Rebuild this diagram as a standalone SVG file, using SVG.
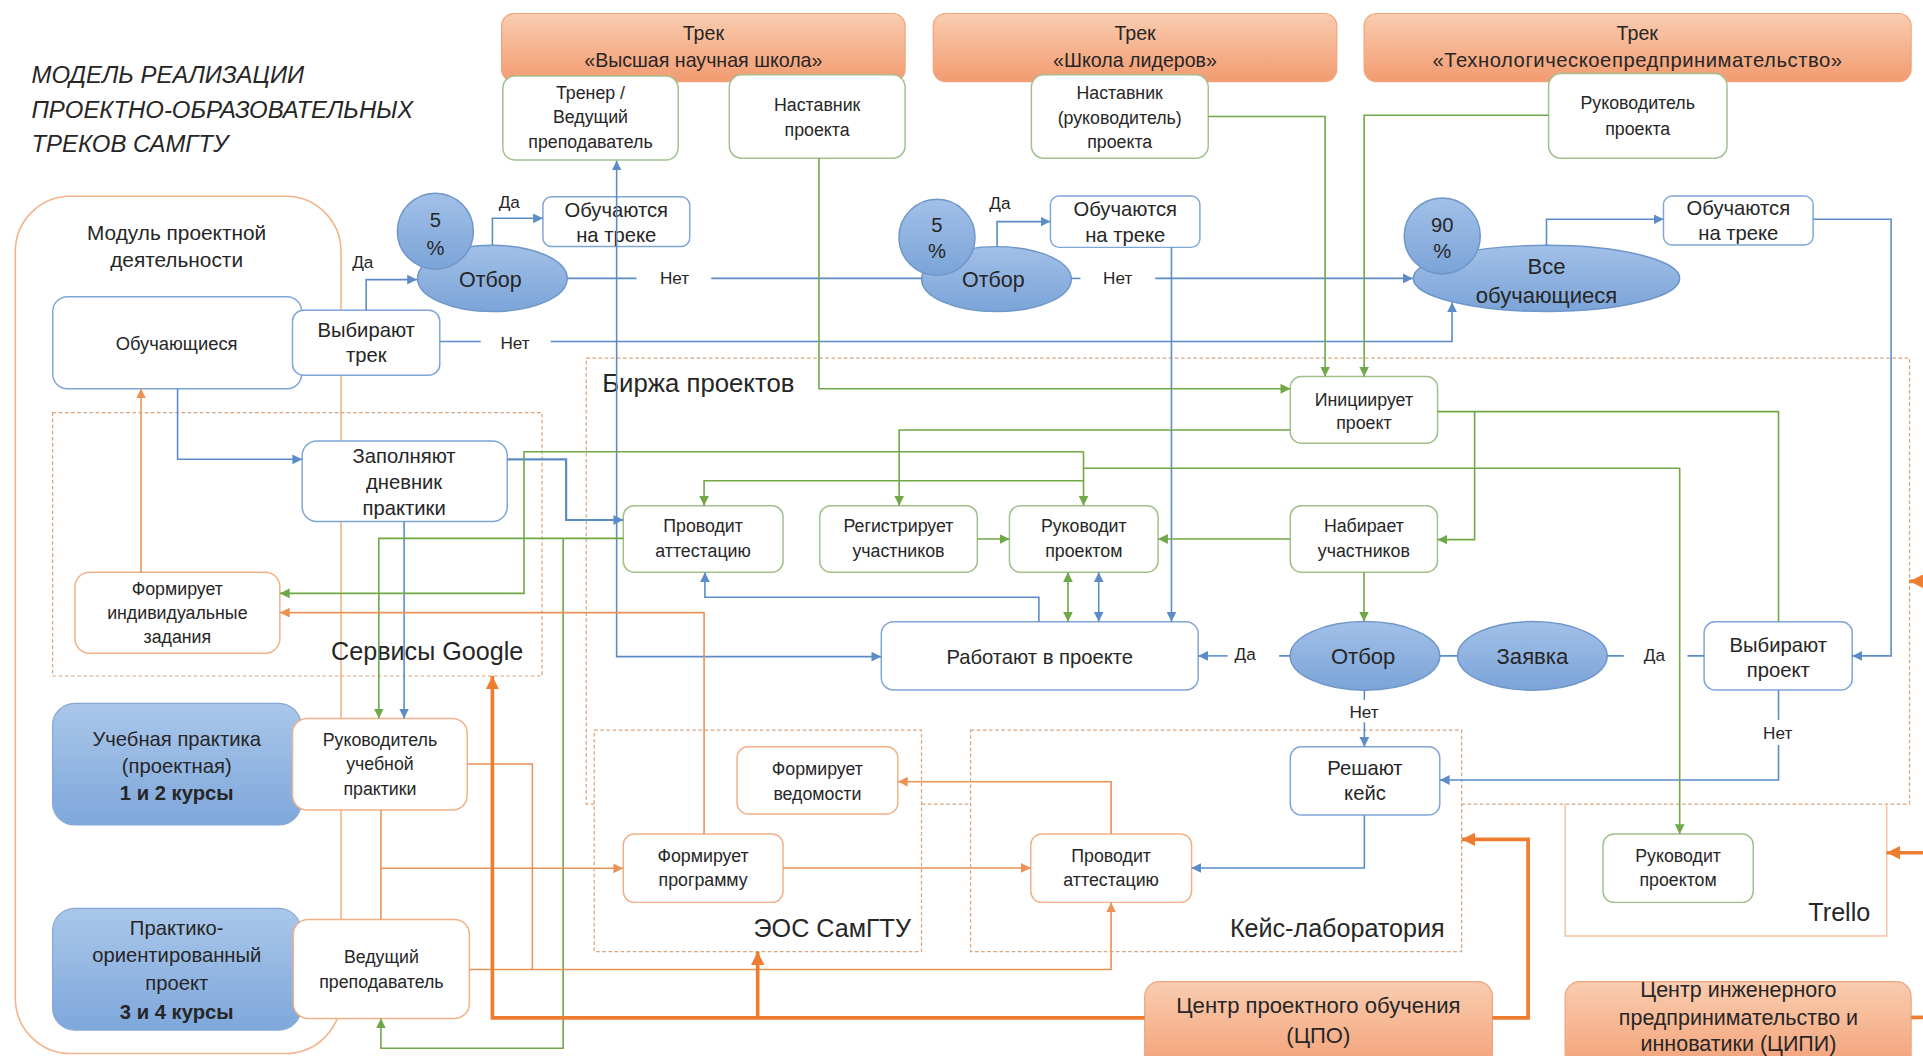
<svg xmlns="http://www.w3.org/2000/svg" width="1923" height="1056" viewBox="0 0 1923 1056">
<defs>
<style>
.t{font-family:"Liberation Sans",Arial,sans-serif;fill:#262626;text-anchor:middle}
.s{text-anchor:start}
.e{text-anchor:end}
.f14{font-size:14.5px}.f16{font-size:16.5px}.f17{font-size:17.5px}.f18{font-size:18px}.f20{font-size:20.5px}
.b{font-weight:bold}
.bxb{fill:#fff;stroke:#7ea6d6;stroke-width:1.2}
.bxg{fill:#fff;stroke:#a3c08a;stroke-width:1.2}
.bxo{fill:#fff;stroke:#f2b088;stroke-width:1.2}
.trk{fill:url(#gOr);stroke:#f0a47c;stroke-width:1}
.blu{fill:url(#gBl);stroke:#86a8d2;stroke-width:1}
.ell{fill:url(#gEl);stroke:#6f96c8;stroke-width:1.2}
.cb{fill:none;stroke:#5b8cc8;stroke-width:1.3}
.cg{fill:none;stroke:#70a848;stroke-width:1.3}
.co{fill:none;stroke:#eb9356;stroke-width:1.3}
.cot{fill:none;stroke:#ed7d31;stroke-width:3}
.dash{fill:none;stroke:#d9a47c;stroke-width:1;stroke-dasharray:3 2}
.mod{fill:none;stroke:#f2b48a;stroke-width:1.3}
</style>
<linearGradient id="gOr" x1="0" y1="0" x2="0" y2="1"><stop offset="0" stop-color="#f9cdb0"/><stop offset="1" stop-color="#f29b70"/></linearGradient>
<linearGradient id="gBl" x1="0" y1="0" x2="0" y2="1"><stop offset="0" stop-color="#aac7ea"/><stop offset="1" stop-color="#7ea7db"/></linearGradient>
<linearGradient id="gEl" x1="0" y1="0" x2="0" y2="1"><stop offset="0" stop-color="#a2c0e8"/><stop offset="1" stop-color="#7ba4d8"/></linearGradient>
<marker id="ab" viewBox="0 0 10 10" refX="10" refY="5" markerWidth="8" markerHeight="8" markerUnits="userSpaceOnUse" orient="auto-start-reverse"><path d="M0,0 L10,5 L0,10 z" fill="#5b8cc8"/></marker>
<marker id="ag" viewBox="0 0 10 10" refX="10" refY="5" markerWidth="8" markerHeight="8" markerUnits="userSpaceOnUse" orient="auto-start-reverse"><path d="M0,0 L10,5 L0,10 z" fill="#70a848"/></marker>
<marker id="ao" viewBox="0 0 10 10" refX="10" refY="5" markerWidth="8" markerHeight="8" markerUnits="userSpaceOnUse" orient="auto-start-reverse"><path d="M0,0 L10,5 L0,10 z" fill="#eb9356"/></marker>
<marker id="aot" viewBox="0 0 10 10" refX="10" refY="5" markerWidth="11" markerHeight="11" markerUnits="userSpaceOnUse" orient="auto-start-reverse"><path d="M0,0 L10,5 L0,10 z" fill="#ed7d31"/></marker>
</defs>
<rect width="1923" height="1056" fill="#fff"/>
<g transform="scale(1.2264)">
<g id="containers">
<rect class="mod" x="12.5" y="160" width="265.5" height="699" rx="45"/>
<rect class="dash" x="478" y="292" width="1079" height="363.6"/>
<rect class="dash" x="42.9" y="336.4" width="399.1" height="214.8"/>
<rect class="dash" x="484.5" y="595.3" width="266.9" height="180.7" style="fill:#fff"/>
<rect class="dash" x="791.4" y="595.3" width="400.4" height="180.7" style="fill:#fff"/>
<path d="M1276.2,655.6 V763.2 H1538.4 V655.6" fill="none" stroke="#f2c2a2" stroke-width="1.2"/>
<text class="t s f20" x="491" y="319.5" style="font-size:21px">Биржа проектов</text>
<text class="t f20" x="348.3" y="531.3" dy=".35em">Сервисы Google</text>
<text class="t f20" x="678.6" y="757" dy=".35em">ЭОС СамГТУ</text>
<text class="t e f20" x="1178" y="757" dy=".35em">Кейс-лаборатория</text>
<text class="t e f20" x="1525" y="743.4" dy=".35em">Trello</text>
</g>
<g id="title">
<text class="t s" x="25.7" y="68" style="font-size:19.5px;font-style:italic">МОДЕЛЬ РЕАЛИЗАЦИИ</text>
<text class="t s" x="25.7" y="96.5" style="font-size:19.5px;font-style:italic">ПРОЕКТНО-ОБРАЗОВАТЕЛЬНЫХ</text>
<text class="t s" x="25.7" y="124" style="font-size:19.5px;font-style:italic">ТРЕКОВ САМГТУ</text>
</g>
<g id="track1"><rect class="trk" x="409" y="11" width="329" height="55.5" rx="10"/><text class="t" x="573.5" y="27" dy=".35em" style="font-size:16px">Трек</text><text class="t" x="573.5" y="49" dy=".35em" style="font-size:16px">«Высшая научная школа»</text></g>
<g id="track2"><rect class="trk" x="761" y="11" width="329" height="55.5" rx="10"/><text class="t" x="925.5" y="27" dy=".35em" style="font-size:16px">Трек</text><text class="t" x="925.5" y="49" dy=".35em" style="font-size:16px">«Школа лидеров»</text></g>
<g id="track3"><rect class="trk" x="1112.3" y="11" width="446" height="55.5" rx="10"/><text class="t" x="1335" y="27" dy=".35em" style="font-size:16px">Трек</text><text class="t" x="1335" y="49" dy=".35em" style="font-size:16.5px" textLength="334" lengthAdjust="spacing">«Технологическоепредпринимательство»</text></g>
<g id="trener"><rect class="bxg" x="410" y="62" width="143" height="68.5" rx="10"/><text class="t f14" x="481.5" y="76" dy=".35em">Тренер /</text><text class="t f14" x="481.5" y="95.5" dy=".35em">Ведущий</text><text class="t f14" x="481.5" y="115.5" dy=".35em">преподаватель</text></g>
<g id="nastavnik1"><rect class="bxg" x="594.7" y="61" width="143.3" height="68" rx="10"/><text class="t f14" x="666.3" y="85.6" dy=".35em">Наставник</text><text class="t f14" x="666.3" y="105.5" dy=".35em">проекта</text></g>
<g id="nastavnik2"><rect class="bxg" x="841" y="61" width="144.2" height="68" rx="10"/><text class="t f14" x="913" y="75.5" dy=".35em">Наставник</text><text class="t f14" x="913" y="95.7" dy=".35em">(руководитель)</text><text class="t f14" x="913" y="115.5" dy=".35em">проекта</text></g>
<g id="rukovoditel3"><rect class="bxg" x="1262.7" y="60" width="145.5" height="69" rx="10"/><text class="t f14" x="1335.4" y="84" dy=".35em">Руководитель</text><text class="t f14" x="1335.4" y="104.6" dy=".35em">проекта</text></g>
<g id="modul"><text class="t" x="144" y="190" dy=".35em" style="font-size:17px">Модуль проектной</text><text class="t" x="144" y="212" dy=".35em" style="font-size:17px">деятельности</text></g>
<g id="obuchayushchiesya"><rect class="bxb" x="43" y="242" width="203" height="75" rx="12"/><text class="t" x="144" y="280" dy=".35em" style="font-size:15px">Обучающиеся</text></g>
<g id="vybirayut-trek"><rect class="bxb" x="238.5" y="253" width="120.1" height="53" rx="9"/><text class="t f16" x="298.6" y="269" dy=".35em">Выбирают</text><text class="t f16" x="298.6" y="289.5" dy=".35em">трек</text></g>
<g id="otbor1"><ellipse class="ell" cx="401.5" cy="227" rx="61" ry="27"/><circle class="ell" cx="355" cy="188.5" r="31"/><text class="t f16" x="355" y="179.5" dy=".35em">5</text><text class="t f16" x="355" y="202.5" dy=".35em">%</text><text class="t f17" x="399.8" y="228" dy=".35em">Отбор</text></g>
<g id="obuchayutsya1"><rect class="bxb" x="442.7" y="160.4" width="119.7" height="40.6" rx="7"/><text class="t f16" x="502.5" y="171" dy=".35em">Обучаются</text><text class="t f16" x="502.5" y="191.6" dy=".35em">на треке</text></g>
<g id="otbor2"><ellipse class="ell" cx="812.5" cy="227.6" rx="61" ry="26.5"/><circle class="ell" cx="764" cy="193.5" r="31"/><text class="t f16" x="764" y="183.5" dy=".35em">5</text><text class="t f16" x="764" y="204.4" dy=".35em">%</text><text class="t f17" x="810" y="228" dy=".35em">Отбор</text></g>
<g id="obuchayutsya2"><rect class="bxb" x="856.5" y="159.8" width="121.9" height="41.9" rx="7"/><text class="t f16" x="917.5" y="170.7" dy=".35em">Обучаются</text><text class="t f16" x="917.5" y="191.6" dy=".35em">на треке</text></g>
<g id="vse"><ellipse class="ell" cx="1261" cy="227" rx="108.6" ry="27"/><circle class="ell" cx="1176" cy="192.4" r="31"/><text class="t f16" x="1176" y="183.5" dy=".35em">90</text><text class="t f16" x="1176" y="205" dy=".35em">%</text><text class="t f18" x="1261" y="217.4" dy=".35em">Все</text><text class="t f18" x="1261" y="240.5" dy=".35em">обучающиеся</text></g>
<g id="obuchayutsya3"><rect class="bxb" x="1356.4" y="159.8" width="122" height="40" rx="7"/><text class="t f16" x="1417.4" y="169.9" dy=".35em">Обучаются</text><text class="t f16" x="1417.4" y="190.3" dy=".35em">на треке</text></g>
<g id="initsiiruet"><rect class="bxg" x="1052.1" y="307" width="120.1" height="54.4" rx="9"/><text class="t f14" x="1112.1" y="325.6" dy=".35em">Инициирует</text><text class="t f14" x="1112.1" y="345.1" dy=".35em">проект</text></g>
<g id="provodit1"><rect class="bxg" x="508.2" y="412.3" width="130.3" height="54.3" rx="9"/><text class="t f14" x="573.3" y="428.6" dy=".35em">Проводит</text><text class="t f14" x="573.3" y="449" dy=".35em">аттестацию</text></g>
<g id="registriruet"><rect class="bxg" x="668.4" y="412.3" width="128.5" height="54.3" rx="9"/><text class="t f14" x="732.6" y="428.6" dy=".35em">Регистрирует</text><text class="t f14" x="732.6" y="449" dy=".35em">участников</text></g>
<g id="rukovodit1"><rect class="bxg" x="823.1" y="412.3" width="121.2" height="54.3" rx="9"/><text class="t f14" x="883.7" y="428.6" dy=".35em">Руководит</text><text class="t f14" x="883.7" y="449" dy=".35em">проектом</text></g>
<g id="nabiraet"><rect class="bxg" x="1052.1" y="412.3" width="120" height="54.3" rx="9"/><text class="t f14" x="1112.1" y="428.6" dy=".35em">Набирает</text><text class="t f14" x="1112.1" y="449" dy=".35em">участников</text></g>
<g id="rabotayut"><rect class="bxb" x="718.6" y="506.9" width="258.4" height="55.7" rx="10"/><text class="t f16" x="847.8" y="535.4" dy=".35em">Работают в проекте</text></g>
<g id="otbor3"><ellipse class="ell" cx="1113" cy="534.8" rx="61" ry="28"/><text class="t f18" x="1111.5" y="534.8" dy=".35em">Отбор</text></g>
<g id="zayavka"><ellipse class="ell" cx="1249.5" cy="534.8" rx="61" ry="28"/><text class="t f18" x="1249.5" y="534.8" dy=".35em">Заявка</text></g>
<g id="vybirayut-proekt"><rect class="bxb" x="1389.5" y="507" width="120.8" height="55.6" rx="9"/><text class="t f16" x="1450" y="526" dy=".35em">Выбирают</text><text class="t f16" x="1450" y="546.3" dy=".35em">проект</text></g>
<g id="reshayut"><rect class="bxb" x="1052.1" y="608.9" width="121.9" height="55.7" rx="9"/><text class="t f16" x="1113" y="626.5" dy=".35em">Решают</text><text class="t f16" x="1113" y="646.9" dy=".35em">кейс</text></g>
<g id="provodit2"><rect class="bxo" x="840.5" y="680" width="131.1" height="55.8" rx="9"/><text class="t f14" x="906" y="697.7" dy=".35em">Проводит</text><text class="t f14" x="906" y="717.6" dy=".35em">аттестацию</text></g>
<g id="vedomosti"><rect class="bxo" x="601" y="608.9" width="131.1" height="54.9" rx="9"/><text class="t f14" x="666.5" y="626.5" dy=".35em">Формирует</text><text class="t f14" x="666.5" y="646.9" dy=".35em">ведомости</text></g>
<g id="programmu"><rect class="bxo" x="508.2" y="680" width="130.3" height="55.8" rx="9"/><text class="t f14" x="573.3" y="697.7" dy=".35em">Формирует</text><text class="t f14" x="573.3" y="717.6" dy=".35em">программу</text></g>
<g id="rukovodit2"><rect class="bxg" x="1307.1" y="680" width="122.5" height="55.8" rx="9"/><text class="t f14" x="1368.3" y="697.7" dy=".35em">Руководит</text><text class="t f14" x="1368.3" y="717.6" dy=".35em">проектом</text></g>
<g id="zadaniya"><rect class="bxo" x="61.1" y="466.6" width="167.1" height="66.1" rx="12"/><text class="t f14" x="144.6" y="479.7" dy=".35em">Формирует</text><text class="t f14" x="144.6" y="499.5" dy=".35em">индивидуальные</text><text class="t f14" x="144.6" y="519" dy=".35em">задания</text></g>
<g id="dnevnik"><rect class="bxb" x="246.4" y="359.5" width="167.2" height="65.8" rx="12"/><text class="t f16" x="329.5" y="371.8" dy=".35em">Заполняют</text><text class="t f16" x="329.5" y="392.7" dy=".35em">дневник</text><text class="t f16" x="329.5" y="414.5" dy=".35em">практики</text></g>
<g id="uchebnaya"><rect class="blu" x="42.9" y="573.5" width="202.5" height="99.2" rx="18"/><text class="t f16" x="144.1" y="602.9" dy=".35em">Учебная практика</text><text class="t f16" x="144.1" y="624.6" dy=".35em">(проектная)</text><text class="t f16 b" x="144.1" y="646.9" dy=".35em">1 и 2 курсы</text></g>
<g id="praktiko"><rect class="blu" x="42.9" y="740.7" width="202.5" height="99.2" rx="18"/><text class="t f16" x="144.1" y="757" dy=".35em">Практико-</text><text class="t f16" x="144.1" y="778.7" dy=".35em">ориентированный</text><text class="t f16" x="144.1" y="801.8" dy=".35em">проект</text><text class="t f16 b" x="144.1" y="825" dy=".35em">3 и 4 курсы</text></g>
<g id="rukovoditel-praktiki"><rect class="bxo" x="238.5" y="585.8" width="142.5" height="74.7" rx="12"/><text class="t f14" x="309.8" y="603.4" dy=".35em">Руководитель</text><text class="t f14" x="309.8" y="622.5" dy=".35em">учебной</text><text class="t f14" x="309.8" y="642.8" dy=".35em">практики</text></g>
<g id="vedushchiy"><rect class="bxo" x="239.2" y="749.7" width="143.5" height="80.7" rx="12"/><text class="t f14" x="311" y="780" dy=".35em">Ведущий</text><text class="t f14" x="311" y="800.5" dy=".35em">преподаватель</text></g>
<g id="tspo"><rect class="trk" x="933.4" y="800.5" width="283.5" height="80" rx="12"/><text class="t f18" x="1075" y="819.5" dy=".35em">Центр проектного обучения</text><text class="t f18" x="1075" y="844" dy=".35em">(ЦПО)</text></g>
<g id="tsipi"><rect class="trk" x="1276.2" y="800.5" width="282.1" height="80" rx="12"/><text class="t" x="1417.5" y="806.5" dy=".35em" style="font-size:17.5px">Центр инженерного</text><text class="t" x="1417.5" y="829.5" dy=".35em" style="font-size:17.5px">предпринимательство и</text><text class="t" x="1417.5" y="851" dy=".35em" style="font-size:17.5px">инноватики (ЦИПИ)</text></g>
<g id="connectors">
<path class="cb" d="M298.6,253 V228 H340" marker-end="url(#ab)"/>
<path class="cb" d="M401.5,200 V178 H442.7" marker-end="url(#ab)"/>
<path class="cb" d="M462.5,227 H519 M580,227 H751.5"/>
<path class="cb" d="M813,201 V180.7 H856.5" marker-end="url(#ab)"/>
<path class="cb" d="M873.5,227 H881"/>
<path class="cb" d="M942,227 H1152" marker-end="url(#ab)"/>
<path class="cb" d="M358.6,278.5 H392"/>
<path class="cb" d="M449,278.5 H1184 V246.5" marker-end="url(#ab)"/>
<path class="cb" d="M1261,200 V178.8 H1356.4" marker-end="url(#ab)"/>
<path class="cb" d="M1478.4,178.8 H1542 V534.8 H1510.3" marker-end="url(#ab)"/>
<path class="cb" d="M502.8,131 V535.4 H718.6" marker-start="url(#ab)" marker-end="url(#ab)"/>
<path class="cb" d="M955.2,201.7 V506.9" marker-end="url(#ab)"/>
<path class="cb" d="M895.9,466.6 V506.9" marker-start="url(#ab)" marker-end="url(#ab)"/>
<path class="cb" d="M847.1,506.9 V487 H574.8 V466.6" marker-end="url(#ab)"/>
<path class="cb" d="M413.6,374.5 H461.6 V424 H508.2" marker-end="url(#ab)" style="stroke-width:1.8"/>
<path class="cb" d="M144.8,317 V374.5 H246.4" marker-end="url(#ab)"/>
<path class="cb" d="M329.5,425.3 V585.8" marker-end="url(#ab)"/>
<path class="cb" d="M1052,534.8 H1043 M1174,534.8 H1188.5 M1310.5,534.8 H1324 M1376,534.8 H1389.5"/>
<path class="cb" d="M1001,534.8 H977" marker-end="url(#ab)"/>
<path class="cb" d="M1450.2,562.6 V587"/>
<path class="cb" d="M1450.2,607.5 V636 H1174" marker-end="url(#ab)"/>
<path class="cb" d="M1112.5,562.8 V570.7"/>
<path class="cb" d="M1112.5,589 V608.9" marker-end="url(#ab)"/>
<path class="cb" d="M1112.5,664.6 V707.7 H971.6" marker-end="url(#ab)"/>
<path class="cg" d="M667.8,129 V317 H1052.1" marker-end="url(#ag)"/>
<path class="cg" d="M985.2,95 H1080.5 V307" marker-end="url(#ag)"/>
<path class="cg" d="M1262.7,94 H1112.3 V307" marker-end="url(#ag)"/>
<path class="cg" d="M1052.1,350.6 H733.2 V412.3" marker-end="url(#ag)"/>
<path class="cg" d="M1172.2,335.6 H1202.4 V440 H1172.2" marker-end="url(#ag)"/>
<path class="cg" d="M1202.4,335.6 H1450.2 V507"/>
<path class="cg" d="M883.5,368.3 V412.3" marker-end="url(#ag)"/>
<path class="cg" d="M883.5,368.3 H427.3 V483.8 H228.2" marker-end="url(#ag)"/>
<path class="cg" d="M883.5,381.8 H1369.6 V680" marker-end="url(#ag)"/>
<path class="cg" d="M883.5,392 H574.1 V412.3" marker-end="url(#ag)"/>
<path class="cg" d="M796.9,439.5 H823.1" marker-end="url(#ag)"/>
<path class="cg" d="M1052.1,439.5 H944.3" marker-end="url(#ag)"/>
<path class="cg" d="M870.8,466.6 V506.9" marker-start="url(#ag)" marker-end="url(#ag)"/>
<path class="cg" d="M1112.2,466.6 V506.8" marker-end="url(#ag)"/>
<path class="cg" d="M508.2,439 H308.9 V585.8" marker-end="url(#ag)"/>
<path class="cg" d="M459.2,439 V854.8 H310.6 V830.4" marker-end="url(#ag)"/>
<path class="co" d="M574.1,680 V499.5 H228.2" marker-end="url(#ao)"/>
<path class="co" d="M115,466.6 V316.8" marker-end="url(#ao)"/>
<path class="co" d="M381,623 H434.1 V790.5"/>
<path class="co" d="M382.7,790.5 H906 V735.8" marker-end="url(#ao)"/>
<path class="co" d="M310.6,660.5 V749.7"/>
<path class="co" d="M310.6,708 H508.2" marker-end="url(#ao)"/>
<path class="co" d="M906,680 V637.4 H732.1" marker-end="url(#ao)"/>
<path class="co" d="M638.5,707.7 H840.5" marker-end="url(#ao)"/>
<path class="cot" d="M933.4,830 H401.5 V551.2" marker-end="url(#aot)"/>
<path class="cot" d="M617.8,830 V776" marker-end="url(#aot)"/>
<path class="cot" d="M1216.9,830 H1246 V684.4 H1191.8" marker-end="url(#aot)"/>
<path class="cot" d="M1575,695.3 H1538.4" marker-end="url(#aot)"/>
<path class="cot" d="M1558.3,829.6 H1575"/>
<path class="cot" d="M1575,474 H1557" marker-end="url(#aot)"/>
</g>
<g id="edge-labels">
<text class="t" x="415.3" y="164.4" dy=".35em" style="font-size:14px">Да</text>
<text class="t" x="295.8" y="213.4" dy=".35em" style="font-size:14px">Да</text>
<text class="t" x="550" y="227" dy=".35em" style="font-size:14px">Нет</text>
<text class="t" x="815.3" y="165.8" dy=".35em" style="font-size:14px">Да</text>
<text class="t" x="911.4" y="227" dy=".35em" style="font-size:14px">Нет</text>
<text class="t" x="420" y="279.5" dy=".35em" style="font-size:14px">Нет</text>
<text class="t" x="1015.3" y="533" dy=".35em" style="font-size:14px">Да</text>
<text class="t" x="1349" y="534" dy=".35em" style="font-size:14px">Да</text>
<text class="t" x="1449.5" y="597.4" dy=".35em" style="font-size:14px">Нет</text>
<text class="t" x="1112.2" y="580.5" dy=".35em" style="font-size:14px">Нет</text>
</g>
</g>
</svg>
